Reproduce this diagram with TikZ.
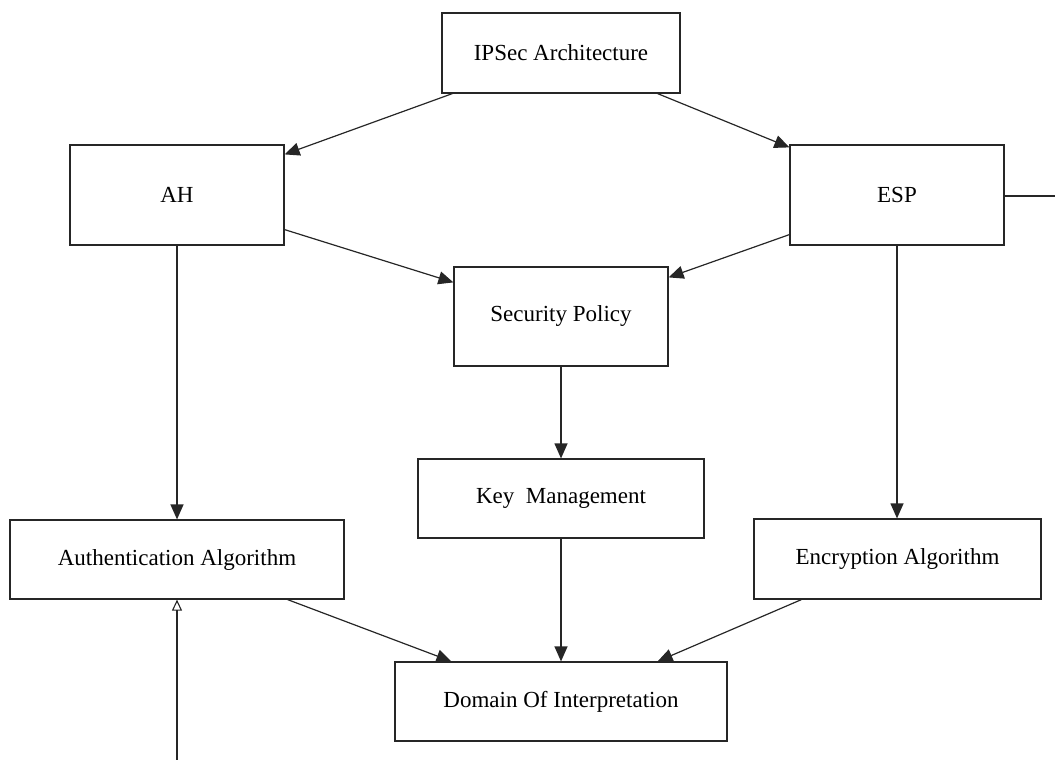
\documentclass[tikz,border=0pt]{standalone}
\usepackage{fontspec}
\setmainfont{Liberation Serif}
\usetikzlibrary{arrows.meta}

\tikzset{
  blk/.style={draw=black!85, line width=1.2pt, fill=white, inner sep=0pt,
              font=\fontsize{23}{27}\selectfont, text=black},
  link/.style={draw=black!85, line width=1.2pt},
  arr/.style={link, -{Triangle[length=15pt,width=13pt]}},
  openarr/.style={link, -{Triangle[open,length=11pt,width=10pt,line width=1.1pt]}}
}

\begin{document}
\begin{tikzpicture}[x=1pt,y=-1pt]
  \useasboundingbox (0,0) rectangle (1055,760);

  % boxes
  \node[blk, minimum width=238pt, minimum height=80pt]  (ipsec) at (561,53)    {IPSec Architecture};
  \node[blk, minimum width=214pt, minimum height=100pt] (ah)    at (177,195)   {AH};
  \node[blk, minimum width=214pt, minimum height=100pt] (esp)   at (897,195)   {ESP};
  \node[blk, minimum width=214pt, minimum height=99pt]  (sp)    at (561,316.5) {Security Policy};
  \node[blk, minimum width=286pt, minimum height=79pt]  (key)   at (561,498.5) {Key\ \ Management};
  \node[blk, minimum width=334pt, minimum height=79pt]  (auth)  at (177,559.5) {Authentication Algorithm};
  \node[blk, minimum width=287pt, minimum height=80pt]  (enc)   at (897.5,559) {Encryption Algorithm};
  \node[blk, minimum width=332pt, minimum height=79pt]  (doi)   at (561,701.5) {Domain Of Interpretation};

  % free ends
  \coordinate (espout) at (1055,196);
  \coordinate (authin) at (177,760);

  % connectors
  \draw[arr] ([xshift=11pt]ipsec.south west) -- ([yshift=-10pt]ah.north east);
  \draw[arr] ([xshift=-23pt]ipsec.south east) -- ([yshift=-3pt]esp.north west);
  \draw[arr] ([yshift=16pt]ah.south east) -- ([yshift=-16pt]sp.north west);
  \draw[arr] ([yshift=11pt]esp.south west) -- ([yshift=-11pt]sp.north east);
  \draw[arr] (sp.south) -- (key.north);
  \draw[arr] (ah.south) -- (auth.north);
  \draw[arr] (esp.south) -- (esp.south |- enc.north);
  \draw[arr] ([xshift=-57pt]auth.south east) -- ([xshift=57pt]doi.north west);
  \draw[arr] (key.south) -- (doi.north);
  \draw[arr] ([xshift=48pt]enc.south west) -- ([xshift=-70pt]doi.north east);
  \draw[link] ([yshift=-1pt]esp.east) -- (espout);
  \draw[openarr] (authin) -- (auth.south);
\end{tikzpicture}
\end{document}
